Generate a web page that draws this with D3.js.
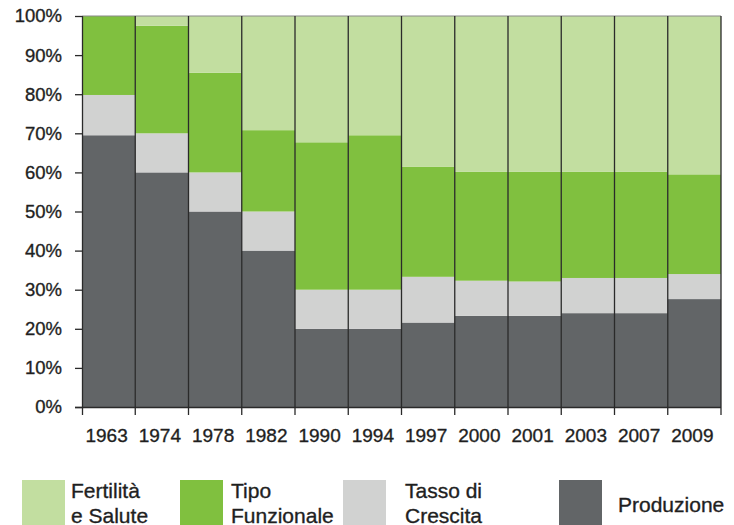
<!DOCTYPE html>
<html>
<head>
<meta charset="utf-8">
<script src="https://cdn.jsdelivr.net/npm/d3@7"></script>
<style>
  body { margin: 0; background: #fff; }
  text { font-family: "Liberation Sans", Arial, sans-serif; fill: #1f1f1f; stroke: #1f1f1f; stroke-width: 0.35px; }
</style>
</head>
<body>
<div id="chart"></div>
<script>
// data
var years = ["1963","1974","1978","1982","1990","1994","1997","2000","2001","2003","2007","2009"];
var produzione     = [69.5, 60, 50, 40, 20, 20, 21.6, 23.3, 23.3, 24, 24, 27.6];
var tassoCrescita  = [10.3, 10, 10, 10, 10, 10, 11.7, 9, 8.8, 9, 9, 6.4];
var tipoFunzionale = [20.2, 27.5, 25.5, 20.8, 37.7, 39.5, 28.1, 27.9, 28.1, 27.2, 27.2, 25.5];
var fertilita      = [0, 2.5, 14.5, 29.2, 32.3, 30.5, 38.6, 39.8, 39.8, 39.8, 39.8, 40.5];
var yTicks = [0, 10, 20, 30, 40, 50, 60, 70, 80, 90, 100];

var seriesKeys  = ["prod", "tasso", "tipo", "fert"];
var colors = {prod: "#626567", tasso: "#d1d2d1", tipo: "#80c03f", fert: "#c2dea0"};

var margin = {top: 16, right: 13, bottom: 118, left: 82},
    W = 734, H = 525,
    width = W - margin.left - margin.right,
    height = H - margin.top - margin.bottom;

var svg = d3.select("#chart").append("svg")
    .attr("width", W)
    .attr("height", H)
  .append("g")
    .attr("transform", "translate(" + margin.left + "," + margin.top + ")");

var table = years.map(function(y, i) {
  return {year: y, prod: produzione[i], tasso: tassoCrescita[i], tipo: tipoFunzionale[i], fert: fertilita[i]};
});

var x = d3.scaleBand().domain(years).range([0, width]).padding(0);
var y = d3.scaleLinear().domain([0, 100]).range([height, 0]);

var stacked = d3.stack().keys(seriesKeys)(table);

// bars
svg.selectAll(".layer")
    .data(stacked)
  .enter().append("g")
    .attr("class", "layer")
    .attr("fill", function(d) { return colors[d.key]; })
  .selectAll("rect")
    .data(function(d) { return d; })
  .enter().append("rect")
    .attr("x", function(d) { return x(d.data.year); })
    .attr("width", x.bandwidth())
    .attr("y", function(d) { return y(d[1]); })
    .attr("height", function(d) { return y(d[0]) - y(d[1]); });

// top border
svg.append("line")
    .attr("x1", 0).attr("x2", width)
    .attr("y1", y(100)).attr("y2", y(100))
    .attr("stroke", "#8a8a8a").attr("stroke-width", 1.2);

// separators between bars, extending as ticks below the axis
var bounds = years.map(function(d) { return x(d) + x.bandwidth(); });
svg.selectAll(".sep")
    .data(bounds)
  .enter().append("line")
    .attr("class", "sep")
    .attr("x1", function(d) { return d; })
    .attr("x2", function(d) { return d; })
    .attr("y1", y(100))
    .attr("y2", height + 8)
    .attr("stroke", "#2a2a2a")
    .attr("stroke-width", 1.3);

// y axis
var yAxis = svg.append("g")
    .call(d3.axisLeft(y).tickValues(yTicks).tickSize(7).tickPadding(13)
      .tickFormat(function(d) { return d + "%"; }));
yAxis.selectAll("text").style("font-size", "18.5px").attr("fill", "#1f1f1f");
yAxis.selectAll("line").attr("stroke", "#2a2a2a").attr("stroke-width", 1.3);
yAxis.select(".domain").attr("stroke", "#2a2a2a").attr("stroke-width", 1.3)
    .attr("d", "M-7," + (height + 0.5) + "H0.5V" + y(100));

// x axis
var xAxis = svg.append("g")
    .attr("transform", "translate(0," + height + ")")
    .call(d3.axisBottom(x).tickSize(0).tickPadding(22));
xAxis.selectAll("text").style("font-size", "19px").attr("fill", "#1f1f1f")
    .attr("dx", -2);
xAxis.select(".domain").attr("stroke", "#2a2a2a").attr("stroke-width", 1.3)
    .attr("d", "M0,0.5H" + width);
// tick at left edge
svg.append("line")
    .attr("x1", 0.5).attr("x2", 0.5)
    .attr("y1", height).attr("y2", height + 8)
    .attr("stroke", "#2a2a2a").attr("stroke-width", 1.3);

// legend
var legendItems = [
  {key: "fert",  lines: ["Fertilità", "e Salute"],   sx: 22,  tx: 71},
  {key: "tipo",  lines: ["Tipo", "Funzionale"],      sx: 180, tx: 231},
  {key: "tasso", lines: ["Tasso di", "Crescita"],    sx: 343, tx: 405},
  {key: "prod",  lines: ["Produzione"],              sx: 559, tx: 618}
];

var legend = d3.select("svg").append("g").attr("class", "legend");
var li = legend.selectAll(".item")
    .data(legendItems)
  .enter().append("g")
    .attr("class", "item");

li.append("rect")
    .attr("x", function(d) { return d.sx; })
    .attr("y", 480)
    .attr("width", 43)
    .attr("height", 45)
    .attr("fill", function(d) { return colors[d.key]; });

li.append("text")
    .attr("x", function(d) { return d.tx; })
    .attr("y", function(d) { return d.lines.length > 1 ? 497.5 : 511.5; })
    .style("font-size", "21px")
    .selectAll("tspan")
    .data(function(d) { return d.lines.map(function(l) { return {t: l, x: d.tx}; }); })
  .enter().append("tspan")
    .attr("x", function(d) { return d.x; })
    .attr("dy", function(d, i) { return i === 0 ? 0 : 25; })
    .text(function(d) { return d.t; });
</script>
</body>
</html>
